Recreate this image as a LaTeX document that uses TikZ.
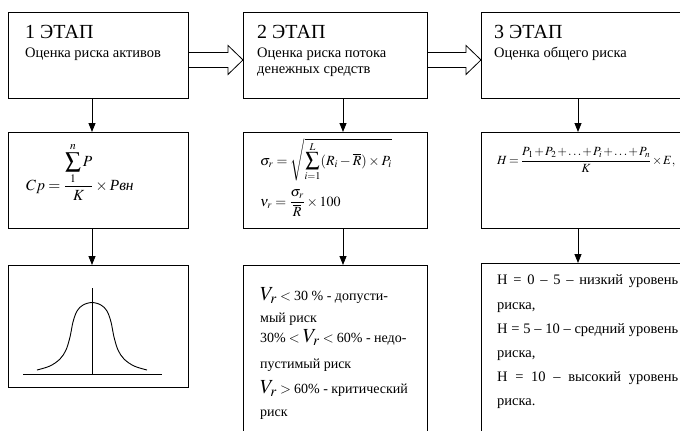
\documentclass[tikz,border=0pt]{standalone}
\usepackage{mathptmx}
\usepackage{fontspec}
\setmainfont{Liberation Serif}
\usetikzlibrary{calc,arrows.meta}
\begin{document}
\begin{tikzpicture}[x=1pt,y=-1pt,
  box/.style={draw, line width=0.9pt, rectangle, inner sep=0pt, anchor=north west},
  lbl/.style={anchor=base west, inner sep=0pt},
  ttl/.style={lbl, font=\fontsize{20}{22}\selectfont},
  sub/.style={lbl, font=\fontsize{14.5}{16}\selectfont},
  bot/.style={lbl, font=\fontsize{14.5}{16}\selectfont},
  botv/.style={lbl, font=\fontsize{14}{16}\selectfont},
  varr/.style={line width=0.8pt, -{Triangle[width=7pt,length=9pt]}},
  harr/.style={line width=0.8pt, line join=miter}]
\useasboundingbox (0,0) rectangle (680,431);
\clip (0,0) rectangle (680,431);
% boxes
\node[box, minimum width=180pt, minimum height=86pt] (t1) at (8,12) {};
\node[box, minimum width=184pt, minimum height=86pt] (t2) at (243,12) {};
\node[box, minimum width=240pt, minimum height=86pt] (t3) at (481,12) {};
\node[box, minimum width=180pt, minimum height=96pt] (m1) at (8,132) {};
\node[box, minimum width=184pt, minimum height=96pt] (m2) at (243,132) {};
\node[box, minimum width=240pt, minimum height=96pt] (m3) at (481,132) {};
\node[box, minimum width=180pt, minimum height=122pt] (b1) at (8,265) {};
\node[box, minimum width=184pt, minimum height=200pt] (b2) at (243,265) {};
\node[box, minimum width=240pt, minimum height=200pt] (b3) at (481,263) {};
% top texts
\node[ttl] (t1a) at (25,38.5) {1 ЭТАП};
\node[sub] (t1b) at (25,57) {Оценка риска активов};
\node[ttl] (t2a) at (257,38.5) {2 ЭТАП};
\node[sub] (t2b) at (257,57) {Оценка риска потока};
\node[sub] (t2c) at (257,73) {денежных средств};
\node[ttl] (t3a) at (494,38.5) {3 ЭТАП};
\node[sub] (t3b) at (494,57) {Оценка общего риска};
% hollow arrows
\draw[harr] ($(t1.east)+(0,-3)$) -- ($(t2.west)+(-15,-3)$) -- ($(t2.west)+(-15,-10)$)
  -- ($(t2.west)+(0,4.5)$) -- ($(t2.west)+(-15,19)$) -- ($(t2.west)+(-15,12)$) -- ($(t1.east)+(0,12)$);
\draw[harr] ($(t2.east)+(0,-3)$) -- ($(t3.west)+(-15,-3)$) -- ($(t3.west)+(-15,-10)$)
  -- ($(t3.west)+(0,4.5)$) -- ($(t3.west)+(-15,19)$) -- ($(t3.west)+(-15,12)$) -- ($(t2.east)+(0,12)$);
% vertical arrows
\draw[varr] ($(t1.south west)+(84,0)$) -- ($(m1.north west)+(84,0)$);
\draw[varr] ($(m1.south west)+(84,0)$) -- ($(b1.north west)+(84,0)$);
\draw[varr] ($(t2.south west)+(100,0)$) -- ($(m2.north west)+(100,0)$);
\draw[varr] ($(m2.south west)+(100,0)$) -- ($(b2.north west)+(100,0)$);
\draw[varr] ($(t3.south west)+(97,0)$) -- ($(m3.north west)+(97,0)$);
\draw[varr] ($(m3.south west)+(97,0)$) -- ($(b3.north west)+(97,0)$);
% formulas
\node[lbl, font=\fontsize{15.5}{18}\selectfont] (f1) at (26,190)
  {$\displaystyle Cp=\frac{\displaystyle\sum_{1}^{n}P}{K}\times \textit{Рвн}$};
\node[lbl, font=\fontsize{14}{16}\selectfont] (f2) at (260,165)
  {$\displaystyle \sigma_r=\sqrt{\sum_{i=1}^{L}(R_i-\overline{R})\times P_i}$};
\node[lbl, font=\fontsize{14}{16}\selectfont] (f3) at (260,206)
  {$\displaystyle \nu_r=\frac{\sigma_r}{\overline{R}}\times 100$};
\node[lbl, font=\fontsize{12.5}{14}\selectfont] (f4) at (497,164)
  {\medmuskip=1.5mu\thickmuskip=3mu$\displaystyle H=\frac{P_1+P_2+\ldots+P_i+\ldots+P_n}{K}\times E,$};
% bell curve
\draw[line width=0.8pt] (23,374) -- (162,374);
\draw[line width=0.8pt] (92,288) -- (92,374);
\draw[line width=0.9pt] plot[smooth, tension=0.55] coordinates {
  (37,370) (50,366) (60,359) (66,350) (70,337) (73,322) (77,311) (83,305) (92,302.5)
  (101,305) (107,311) (111,322) (114,337) (118,350) (124,359) (134,366) (147,370)};
% bottom box 2
\node[botv] (v1) at (260,300) {\fontsize{20}{20}\selectfont$V_r$\fontsize{14}{16}\selectfont${}<{}$30 \% - допусти-};
\node[botv] (v2) at (260,322) {мый риск};
\node[botv] (v3) at (260,342) {30\%${}<{}$\fontsize{20}{20}\selectfont$V_r$\fontsize{14}{16}\selectfont${}<{}$60\% - недо-};
\node[botv] (v4) at (260,368) {пустимый риск};
\node[botv] (v5) at (260,393) {\fontsize{20}{20}\selectfont$V_r$\fontsize{14}{16}\selectfont${}>{}$60\% - критический};
\node[botv] (v6) at (260,416) {риск};
% bottom box 3
\node[bot] (h1) at (497,284) {\makebox[181pt][s]{H = 0 – 5 – низкий уровень}};
\node[bot] (h2) at (497,309) {риска,};
\node[bot] (h3) at (497,333) {\makebox[181pt][s]{H = 5 – 10 – средний уровень}};
\node[bot] (h4) at (497,357) {риска,};
\node[bot] (h5) at (497,381) {\makebox[181pt][s]{H = 10 – высокий уровень}};
\node[bot] (h6) at (497,405) {риска.};
\end{tikzpicture}
\end{document}
